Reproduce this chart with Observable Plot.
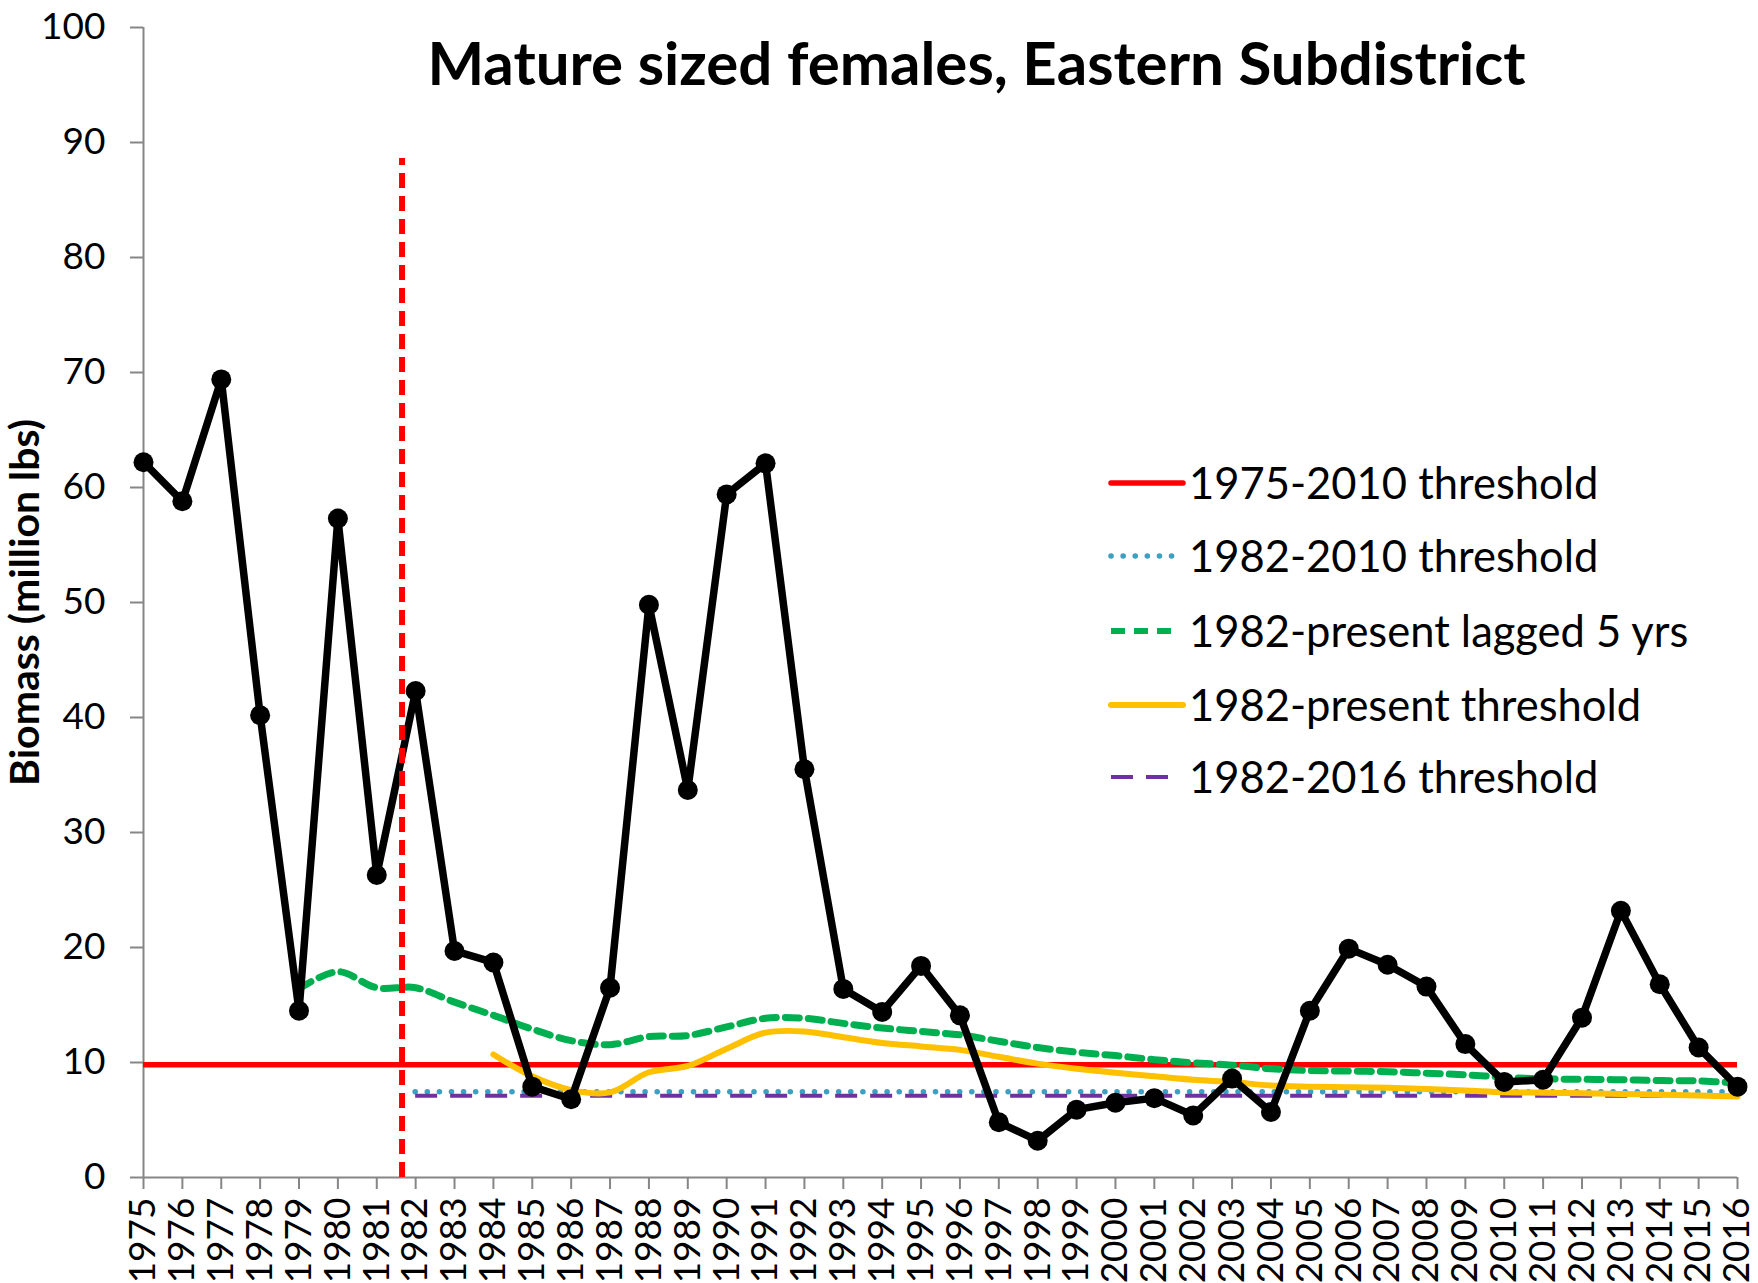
<!DOCTYPE html>
<html><head><meta charset="utf-8">
<script src="https://cdn.jsdelivr.net/npm/d3@7"></script>
<script src="https://cdn.jsdelivr.net/npm/@observablehq/plot@0.6"></script>
<style>
body{margin:0;background:#fff;}
#chart{position:relative;width:1758px;height:1283px;overflow:hidden;background:#fff}
#chart svg{overflow:hidden}
</style></head><body><div id="chart"></div>
<script>
const titleText = "Mature sized females, Eastern Subdistrict";
const yLabel = "Biomass (million lbs)";

const years = [1975,1976,1977,1978,1979,1980,1981,1982,1983,1984,1985,1986,1987,1988,1989,1990,1991,1992,1993,1994,1995,1996,1997,1998,1999,2000,2001,2002,2003,2004,2005,2006,2007,2008,2009,2010,2011,2012,2013,2014,2015,2016];
const biomass = [62.2,58.8,69.4,40.2,14.5,57.3,26.3,42.3,19.7,18.7,7.9,6.8,16.5,49.8,33.7,59.4,62.1,35.5,16.4,14.4,18.4,14.1,4.8,3.2,5.9,6.5,6.9,5.4,8.6,5.7,14.5,19.9,18.5,16.6,11.6,8.3,8.5,13.9,23.2,16.8,11.3,7.9];

const laggedYears = [1979,1980,1981,1982,1983,1984,1985,1986,1987,1988,1989,1990,1991,1992,1993,1994,1995,1996,1997,1998,1999,2000,2001,2002,2003,2004,2005,2006,2007,2008,2009,2010,2011,2012,2013,2014,2015,2016];
const lagged = [16.4,17.9,16.5,16.5,15.25,14.1,12.9,11.9,11.55,12.25,12.35,13.1,13.85,13.85,13.4,13.0,12.7,12.4,11.85,11.3,10.9,10.6,10.25,9.97,9.77,9.45,9.3,9.25,9.2,9.07,8.93,8.72,8.58,8.54,8.5,8.43,8.4,8.2];

const presentYears = [1984,1985,1986,1987,1988,1989,1990,1991,1992,1993,1994,1995,1996,1997,1998,1999,2000,2001,2002,2003,2004,2005,2006,2007,2008,2009,2010,2011,2012,2013,2014,2015,2016];
const present = [10.7,8.8,7.6,7.4,9.15,9.7,11.2,12.6,12.7,12.2,11.7,11.4,11.1,10.5,9.9,9.45,9.1,8.8,8.5,8.3,8.0,7.9,7.85,7.8,7.7,7.57,7.42,7.37,7.33,7.27,7.2,7.13,7.04];

// constant thresholds
const thrNames = ["1975-2010 threshold","1982-2010 threshold","1982-2016 threshold"];
const thrValues = [9.8, 7.45, 7.1];
const thrStart = [1975, 1982, 1982];
const thrEnd = [2016, 2016, 2016];

// vertical marker
const markerYear = [1981.65];
const markerTop = [88.6];

const yTicks = [0,10,20,30,40,50,60,70,80,90,100];

const legendNames = ["1975-2010 threshold","1982-2010 threshold","1982-present lagged 5 yrs","1982-present threshold","1982-2016 threshold"];

const mainData = years.map((y,i)=>({year:y, value:biomass[i]}));
const lagData = laggedYears.map((y,i)=>({year:y, value:lagged[i]}));
const presData = presentYears.map((y,i)=>({year:y, value:present[i]}));
const thrData = thrNames.map((n,i)=>({name:n, value:thrValues[i], x1:thrStart[i], x2:thrEnd[i]}));
const markData = markerYear.map((x,i)=>({x, top:markerTop[i]}));

const styles = {
  "1975-2010 threshold": {stroke:"#FF0000", width:5.5, dash:null, cap:"butt"},
  "1982-2010 threshold": {stroke:"#3f9fc0", width:5.5, dash:"0.1 12", cap:"round"},
  "1982-present lagged 5 yrs": {stroke:"#00B050", width:7, dash:"14 9", cap:"butt"},
  "1982-present threshold": {stroke:"#FFC000", width:6, dash:null, cap:"butt"},
  "1982-2016 threshold": {stroke:"#7030A0", width:4, dash:"22 13", cap:"butt"}
};

const FONT = "Lato, 'Open Sans', sans-serif";

const chart = Plot.plot({
  width: 1758, height: 1283,
  marginLeft: 143, marginRight: 21, marginTop: 27, marginBottom: 106,
  style: {fontFamily: FONT, background: "#fff", color: "#000"},
  x: {type: "linear", domain: [1975, 2016]},
  y: {domain: [0, 100]},
  marks: [
    Plot.ruleX([1975], {stroke: "#868686", strokeWidth: 2}),
    Plot.ruleY([0], {stroke: "#868686", strokeWidth: 2}),
    Plot.axisY({ticks: yTicks, tickSize: 13, tickPadding: 25, fontSize: 37, label: null, stroke: "#868686", strokeWidth: 2, fill: "#000"}),
    Plot.axisX({ticks: years, tickFormat: d => String(d), tickRotate: -90, tickSize: 12, tickPadding: 8, fontSize: 37, label: null, stroke: "#868686", strokeWidth: 2, fill: "#000"}),
    ...thrData.map(d => Plot.ruleY([d], {y: "value", x1: "x1", x2: "x2",
      stroke: styles[d.name].stroke, strokeWidth: styles[d.name].width,
      strokeDasharray: styles[d.name].dash, strokeLinecap: styles[d.name].cap})),
    Plot.line(lagData, {x: "year", y: "value", curve: "catmull-rom", stroke: "#00B050", strokeWidth: 7, strokeDasharray: "14 9"}),
    Plot.line(presData, {x: "year", y: "value", curve: "catmull-rom", stroke: "#FFC000", strokeWidth: 6}),
    Plot.line(mainData, {x: "year", y: "value", stroke: "#000", strokeWidth: 7.5}),
    Plot.dot(mainData, {x: "year", y: "value", r: 10, fill: "#000"}),
    Plot.ruleX(markData, {x: "x", y1: 0, y2: "top", stroke: "#FF0000", strokeWidth: 6, strokeDasharray: "15 8"}),
    Plot.text([titleText], {text: d => d, frameAnchor: "top", textAnchor: "middle", lineAnchor: "middle", dx: 36, dy: 38, fontSize: 60, fontWeight: "bold", fill: "#000"}),
    Plot.text([yLabel], {text: d => d, frameAnchor: "left", textAnchor: "middle", lineAnchor: "middle", rotate: -90, dx: -118, fontSize: 41, fontWeight: "bold", fill: "#000"})
  ]
});

document.getElementById("chart").appendChild(chart);

// legend drawn inside the svg
const svg = d3.select(chart);
const lg = svg.append("g").attr("font-family", FONT).attr("font-size", 43.5).attr("text-anchor", "start");
const rowY = [483, 556, 631, 705, 777];
legendNames.forEach((n, i) => {
  const s = styles[n];
  const x2 = s.dash ? 1174 : 1183;
  lg.append("line").attr("x1", 1111).attr("x2", x2).attr("y1", rowY[i]).attr("y2", rowY[i])
    .attr("stroke", s.stroke).attr("stroke-width", Math.min(s.width, 6))
    .attr("stroke-dasharray", s.dash).attr("stroke-linecap", s.dash ? s.cap : "round");
  lg.append("text").attr("x", 1189).attr("y", rowY[i]).attr("dy", "0.36em").attr("text-anchor", "start").attr("fill", "#000").text(n);
});
</script>
</body></html>
